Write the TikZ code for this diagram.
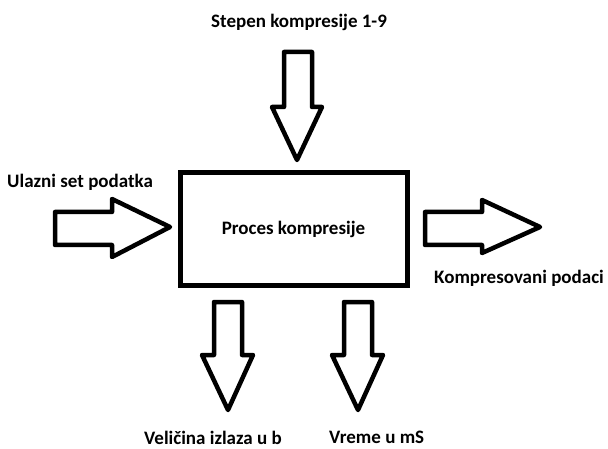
\documentclass[tikz,border=0pt]{standalone}
\usepackage{fontspec}
\setmainfont{Carlito}
\begin{document}
\begin{tikzpicture}[x=1pt,y=-1pt,
  blockarrow/.style={draw=black,line width=4.5pt,fill=white,line join=round},
  lbl/.style={font=\bfseries\fontsize{19}{22}\selectfont,inner sep=0pt}]
\useasboundingbox[fill=white] (0,0) rectangle (608,449);
% process box
\node[draw,line width=5pt,minimum width=227pt,minimum height=113pt,inner sep=0pt,
  lbl] (proc) at (293.5,229) {Proces kompresije};
% top arrow
\draw[blockarrow] (284,52) -- (312,52) -- (312,107) -- (322,107) -- (297,160)
  -- (272,107) -- (284,107) -- cycle;
% left arrow
\draw[blockarrow] (55,212) -- (112,212) -- (112,199) -- (170,227) -- (112,257)
  -- (112,245) -- (55,245) -- cycle;
% right arrow
\draw[blockarrow] (425,212) -- (482,212) -- (482,200) -- (540,227) -- (482,253)
  -- (482,245) -- (425,245) -- cycle;
% bottom left arrow
\draw[blockarrow] (214,302) -- (242,302) -- (242,355) -- (253,355) -- (228,410)
  -- (202,355) -- (214,355) -- cycle;
% bottom right arrow
\draw[blockarrow] (344,302) -- (372,302) -- (372,355) -- (383,355) -- (358,410)
  -- (332,355) -- (344,355) -- cycle;
% labels
\node[lbl,anchor=west] (tstep) at (211,22) {Stepen kompresije 1-9};
\node[lbl,anchor=west] (tin) at (7,182) {Ulazni set podatka};
\node[lbl,anchor=west] (tout) at (434,278) {Kompresovani podaci};
\node[lbl,anchor=west] (tsize) at (144,437.5) {Veličina izlaza u b};
\node[lbl,anchor=west] (ttime) at (329,437.5) {Vreme u mS};
\end{tikzpicture}
\end{document}
